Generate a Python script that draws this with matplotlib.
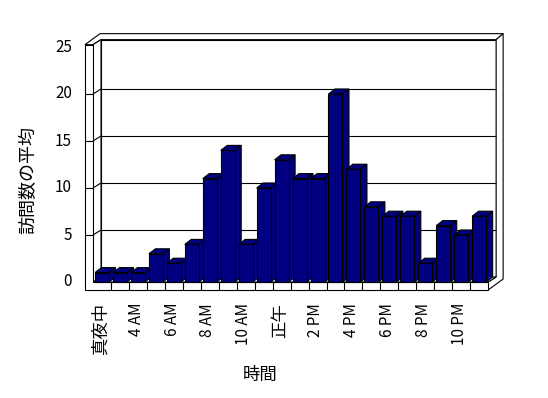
import matplotlib
matplotlib.use('Agg')
import matplotlib.pyplot as plt
from matplotlib.patches import Polygon

# ---- data ----
categories = ['真夜中', '2 AM', '4 AM', '5 AM', '6 AM', '7 AM', '8 AM', '9 AM',
              '10 AM', '11 AM', '正午', '1 PM', '2 PM', '3 PM', '4 PM', '5 PM',
              '6 PM', '7 PM', '8 PM', '9 PM', '10 PM', '11 PM']
visits = [1, 1, 1, 3, 2, 4, 11, 14, 4, 10, 13, 11, 11, 20, 12, 8, 7, 7, 2, 6, 5, 7]
y_ticks = [0, 5, 10, 15, 20, 25]
x_label = '時間'
y_label = '訪問数の平均'

FONT = ['Noto Sans CJK JP', 'DejaVu Sans']

# ---- layout (pixel scale) ----
W, H = 548, 398
PXX, PXY = 17.96, 9.4      # pixels per category / per value unit
X0, Y0 = 102, 282          # pixel position of category 0 / value 0

fig = plt.figure(figsize=(W / 100, H / 100), dpi=100)
ax = fig.add_axes([0, 0, 1, 1])
ax.set_xlim(-X0 / PXX, (W - X0) / PXX)
ax.set_ylim((Y0 - H) / PXY, Y0 / PXY)
ax.axis('off')

n = len(categories)
ymax = 25.25
dx, dy = 8 / PXX, 5 / PXY        # floor depth
tx, ty = 7 / PXX, 6 / PXY        # back wall thickness
wt = 8 / PXX                      # left wall thickness
ft = 8 / PXY                      # floor thickness
L, R = -0.5, n - 0.5
lw = 0.8
navy = '#000080'

def poly(pts, fc='white', z=1):
    ax.add_patch(Polygon(pts, closed=True, facecolor=fc, edgecolor='black',
                         lw=lw, zorder=z, joinstyle='miter'))

def seg(xs, ys, z=1.5):
    ax.plot(xs, ys, color='black', lw=lw, zorder=z, solid_capstyle='butt')

# back wall inner face
poly([(L + dx, dy), (R + dx, dy), (R + dx, ymax + dy), (L + dx, ymax + dy)])
# top faces of walls
poly([(L - wt, ymax), (L, ymax), (L + dx, ymax + dy), (R + dx, ymax + dy),
      (R + dx + tx, ymax + dy + ty), (L - wt + dx + tx, ymax + dy + ty)])
# right side faces (back wall + floor)
poly([(R, 0), (R + dx, dy), (R + dx, ymax + dy), (R + dx + tx, ymax + dy + ty),
      (R + dx + tx, -ft + dy + ty), (R, -ft)])
# floor top face
poly([(L, 0), (R, 0), (R + dx, dy), (L + dx, dy)])
# left wall inner side face
poly([(L, 0), (L, ymax), (L + dx, ymax + dy), (L + dx, dy)])
# front faces (left wall + floor)
poly([(L - wt, ymax), (L, ymax), (L, 0), (R, 0), (R, -ft), (L - wt, -ft)])

# floor dividers
for k in range(1, n):
    seg([L + k, L + k], [-ft, 0])

# gridlines
for v in y_ticks[1:-1]:
    seg([L + dx, R + dx], [v + dy, v + dy])
    seg([L, L + dx], [v, v + dy])
    seg([L - wt, L], [v, v])

# bars
bw = 14 / PXX
bdx, bdy = 6.5 / PXX, 5 / PXY
for i, v in enumerate(visits):
    x1, x2 = i - bw / 2, i + bw / 2
    poly([(x2, 0), (x2 + bdx, bdy), (x2 + bdx, v + bdy), (x2, v)], fc=navy, z=3)
    poly([(x1, v), (x2, v), (x2 + bdx, v + bdy), (x1 + bdx, v + bdy)], fc=navy, z=3)
ax.bar(range(n), visits, width=bw, color=navy, edgecolor='black', lw=lw, zorder=4)

# y tick labels
for v in y_ticks:
    ax.text((72 - X0) / PXX, v, str(v), ha='right', va='center',
            fontsize=11, family=FONT)

# x tick labels (every other category)
for i in range(0, n, 2):
    lab = categories[i]
    cjk = not any(c.isascii() for c in lab)
    ax.text(i - 0.1, (Y0 - 303) / PXY, lab, rotation=90, ha='center', va='top',
            fontsize=12.5 if cjk else 11, family=FONT)

ax.text((260 - X0) / PXX, (Y0 - 375) / PXY, x_label, ha='center', va='center',
        fontsize=12.5, family=FONT)
ax.text((28 - X0) / PXX, (Y0 - 180) / PXY, y_label, rotation=90, ha='center',
        va='center', fontsize=13, family=FONT)

fig.savefig('out.png', dpi=100)
